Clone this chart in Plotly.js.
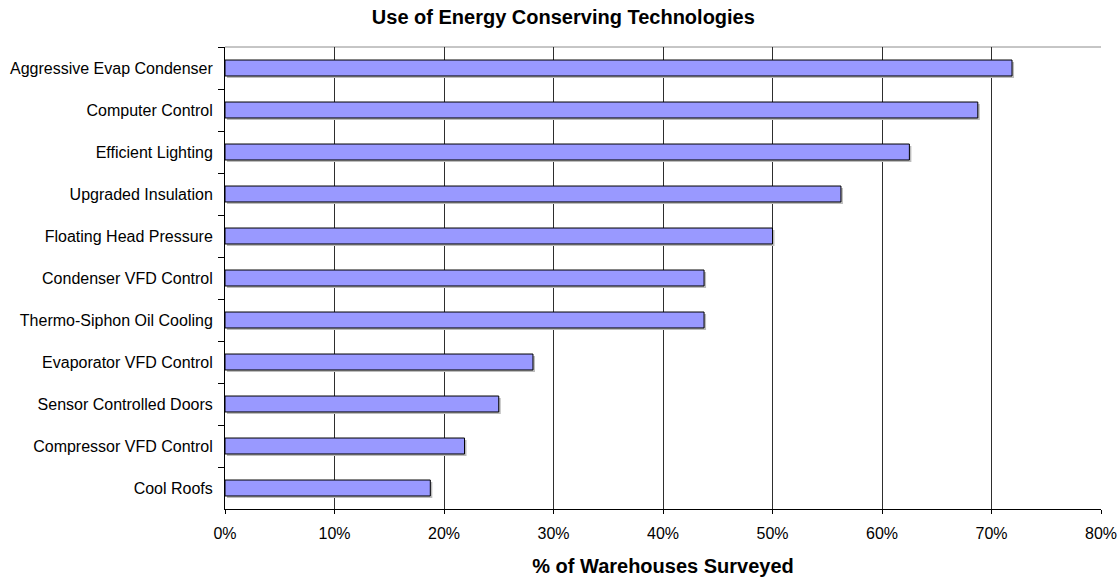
<!DOCTYPE html>
<html>
<head>
<meta charset="utf-8">
<script src="https://cdn.plot.ly/plotly-3.0.1.min.js"></script>
<style>
  html, body { margin: 0; padding: 0; background: #ffffff; }
  #chart { width: 1120px; height: 577px; }
</style>
</head>
<body>
<div id="chart"></div>
<script>
// Share of surveyed warehouses using each technology (fractions of 1)
const technologies = [
  "Aggressive Evap Condenser",
  "Computer Control",
  "Efficient Lighting",
  "Upgraded Insulation",
  "Floating Head Pressure",
  "Condenser VFD Control",
  "Thermo-Siphon Oil Cooling",
  "Evaporator VFD Control",
  "Sensor Controlled Doors",
  "Compressor VFD Control",
  "Cool Roofs"
];
const shareOfWarehouses = [
  0.71875, 0.6875, 0.625, 0.5625, 0.50, 0.4375, 0.4375,
  0.28125, 0.25, 0.21875, 0.1875
];
const xTickValues = [0, 0.1, 0.2, 0.3, 0.4, 0.5, 0.6, 0.7, 0.8];

const FONT = "Arial, 'Liberation Sans', sans-serif";
const W = 1120, H = 577;
const M = { l: 225, r: 19, t: 47, b: 68 };
const plotW = W - M.l - M.r;
const plotH = H - M.t - M.b;
const xMax = 0.8;
const nCat = technologies.length;

// drop-shadow offset in pixels, turned into a range shift for the shadow axes
const SHADOW_PX = 2;
const dx = SHADOW_PX * xMax / plotW;
const dy = SHADOW_PX * nCat / plotH;

const barWidth = 0.38;

const shadow = {
  type: "bar",
  orientation: "h",
  x: shareOfWarehouses,
  y: technologies,
  xaxis: "x",
  yaxis: "y",
  width: barWidth,
  marker: { color: "#bcbcbc", line: { width: 0 } },
  hoverinfo: "skip",
  showlegend: false
};

const bars = {
  type: "bar",
  orientation: "h",
  x: shareOfWarehouses,
  y: technologies,
  xaxis: "x2",
  yaxis: "y2",
  width: barWidth,
  marker: { color: "#9999FF", line: { color: "#000000", width: 1 } },
  hovertemplate: "%{y}: %{x:.1%}<extra></extra>",
  showlegend: false
};

const layout = {
  width: W,
  height: H,
  margin: M,
  paper_bgcolor: "#ffffff",
  plot_bgcolor: "#ffffff",
  font: { family: FONT, size: 16, color: "#000000" },
  title: {
    text: "<b>Use of Energy Conserving Technologies</b>",
    font: { family: FONT, size: 20, color: "#000000" },
    x: 0.503, xanchor: "center",
    y: 1 - 17 / H, yanchor: "middle", yref: "container"
  },
  bargap: 0.62,
  // shadow axes: hidden, shifted by a couple of pixels
  xaxis: {
    range: [-dx, xMax - dx],
    visible: false,
    fixedrange: true
  },
  yaxis: {
    type: "category",
    categoryorder: "array",
    categoryarray: technologies,
    range: [nCat - 0.5 - dy, -0.5 - dy],
    visible: false,
    fixedrange: true
  },
  // visible axes
  xaxis2: {
    overlaying: "x",
    anchor: "y2",
    side: "bottom",
    range: [0, xMax],
    tickvals: xTickValues,
    tickformat: ".0%",
    showgrid: true,
    gridcolor: "#2e2e2e",
    gridwidth: 1,
    zeroline: false,
    showline: true,
    linecolor: "#000000",
    linewidth: 1,
    ticks: "outside",
    ticklen: 4,
    tickcolor: "#000000",
    ticklabelstandoff: 6,
    tickfont: { family: FONT, size: 16, color: "#000000" },
    title: {
      text: "<b>% of Warehouses Surveyed</b>",
      font: { family: FONT, size: 20, color: "#000000" },
      standoff: 17
    },
    automargin: false,
    fixedrange: true
  },
  yaxis2: {
    overlaying: "y",
    anchor: "x2",
    side: "left",
    type: "category",
    categoryorder: "array",
    categoryarray: technologies,
    range: [nCat - 0.5, -0.5],
    showgrid: false,
    zeroline: false,
    showline: true,
    linecolor: "#000000",
    linewidth: 1,
    ticks: "outside",
    tickson: "boundaries",
    ticklen: 6,
    tickcolor: "#000000",
    ticklabelstandoff: 8,
    tickfont: { family: FONT, size: 16, color: "#000000" },
    automargin: false,
    fixedrange: true
  },
  shapes: [
    // light frame along the top edge of the plotting area
    {
      type: "line", xref: "paper", yref: "paper",
      x0: 0, x1: 1, y0: 1, y1: 1,
      line: { color: "#8c8c8c", width: 1 },
      layer: "below"
    }
  ]
};

Plotly.newPlot("chart", [shadow, bars], layout, { displayModeBar: false, staticPlot: true });
</script>
</body>
</html>
